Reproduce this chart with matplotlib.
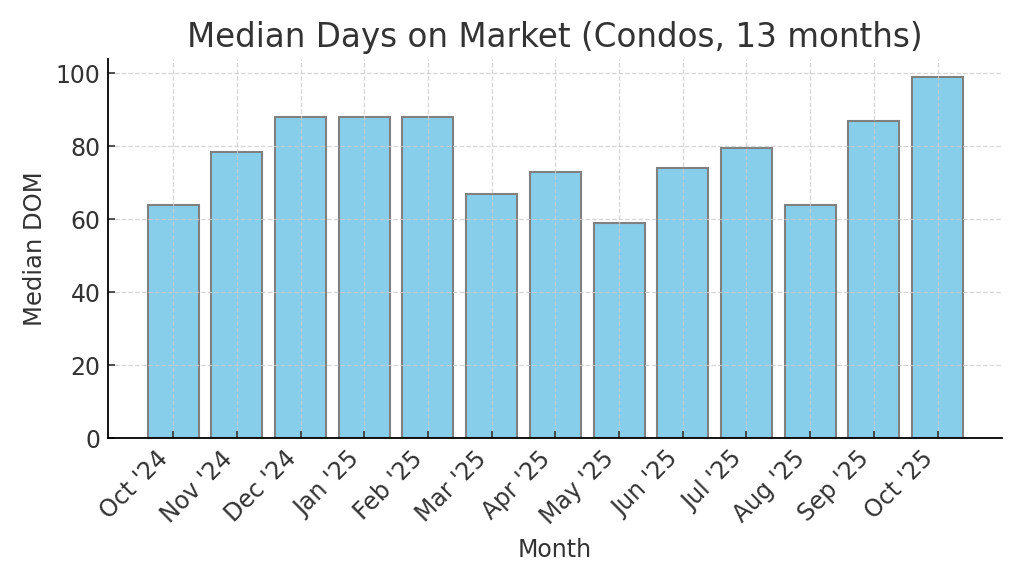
import matplotlib
matplotlib.use("Agg")
import matplotlib.pyplot as plt
import numpy as np

months = ["Oct '24", "Nov '24", "Dec '24", "Jan '25", "Feb '25", "Mar '25", "Apr '25",
          "May '25", "Jun '25", "Jul '25", "Aug '25", "Sep '25", "Oct '25"]
median_dom = [64, 78.5, 88, 88, 88, 67, 73, 59, 74, 79.5, 64, 87, 99]

txt = "#333333"
plt.rcParams["text.color"] = txt
plt.rcParams["axes.labelcolor"] = txt
plt.rcParams["xtick.color"] = txt
plt.rcParams["ytick.color"] = txt

fig, ax = plt.subplots(figsize=(10.24, 5.85), dpi=100)
fig.subplots_adjust(left=0.105, right=0.979, top=0.899, bottom=0.251)

x = np.arange(len(months))
ax.bar(x, median_dom, width=0.8, color="skyblue", edgecolor="gray", linewidth=1.5)

ax.set_xticks(x)
ax.set_xticklabels(months, rotation=45, ha="right", fontsize=17)
ax.tick_params(axis="y", labelsize=17, pad=5)
ax.tick_params(direction="in", length=5, width=1.2)
ax.tick_params(axis="x", pad=6)
ax.set_xlim(-1.03, 13.02)
ax.set_ylim(0, 103.95)
ax.set_yticks([0, 20, 40, 60, 80, 100])

ax.grid(True, linestyle="--", color="#cccccc", linewidth=0.9, alpha=0.8)
ax.spines["top"].set_visible(False)
ax.spines["right"].set_visible(False)
ax.spines["left"].set_linewidth(1.3)
ax.spines["bottom"].set_linewidth(1.3)

ax.set_title("Median Days on Market (Condos, 13 months)", fontsize=23.5, pad=9)
ax.set_xlabel("Month", fontsize=17, labelpad=6)
ax.set_ylabel("Median DOM", fontsize=17.5)
ax.yaxis.set_label_coords(-0.068, 0.5)

fig.savefig("out.png", dpi=100)
